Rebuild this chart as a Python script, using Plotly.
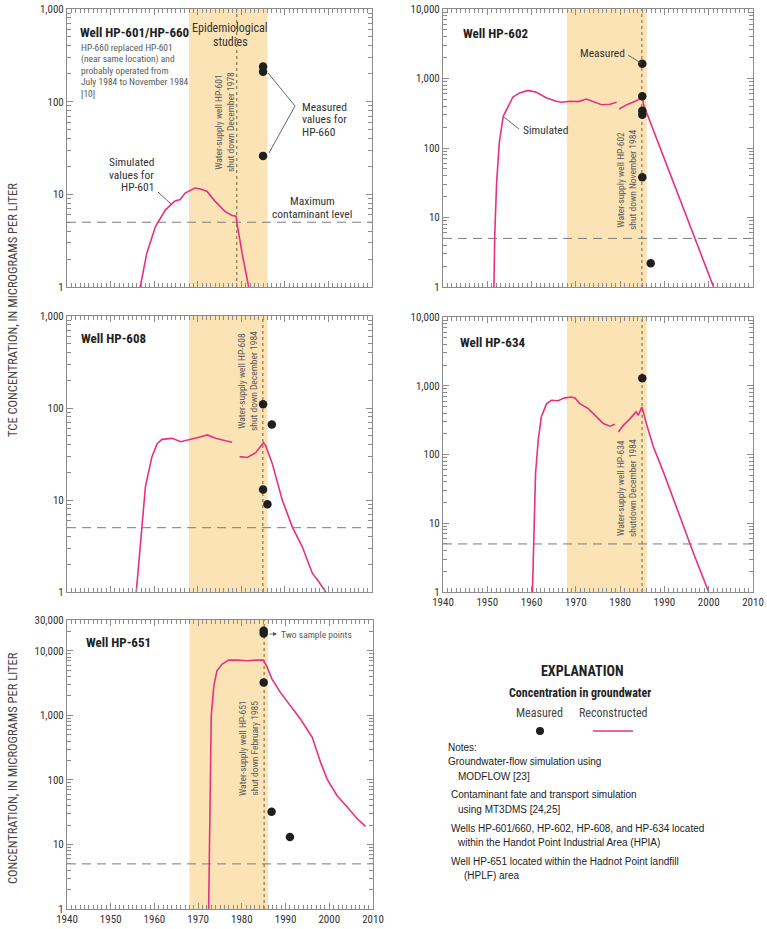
import numpy as np
import plotly.graph_objects as go

W, H = 767, 929
FONT = "Liberation Sans Narrow, Roboto Condensed, DejaVu Sans Condensed, Arial Narrow, sans-serif"
NOTE_FONT = "Liberation Sans, Arial, sans-serif"
PINK = "#E8307F"
DOT = "#1f1f1f"
SHADE = "#FCE3B6"
FRAME = "#8c8c8c"
TXT = "#333333"
GREY = "#5a5a5a"

# ---------------- data ----------------
epi_start, epi_end = 1968.0, 1986.0
mcl = 5

# HP-601 / HP-660
sim601_years = [1956.8, 1958.3, 1960.3, 1962.6, 1964.8, 1966.0, 1967.1, 1969.4, 1970.6, 1972.1,
                1974.0, 1976.3, 1977.9, 1978.8, 1979.0, 1980.2, 1981.7]
sim601_vals = [1, 2.3, 4.5, 6.8, 8.5, 8.8, 10.3, 11.7, 11.4, 10.8, 8.4, 6.5, 5.9, 5.8, 4.9, 2.3, 1]
meas660_years = [1985.0, 1985.0, 1985.0]
meas660_vals = [240, 210, 26]
shut601 = 1978.95

# HP-602
sim602a_years = [1951.5, 1951.7, 1952.1, 1952.7, 1953.6, 1954.7, 1955.8, 1957.3, 1959.2, 1961.1,
                 1963.4, 1965.6, 1966.8, 1968.7, 1970.5, 1972.4, 1973.9, 1975.8, 1977.7, 1979.2]
sim602a_vals = [1, 6, 31, 118, 286, 398, 542, 620, 675, 635, 525, 470, 455, 470, 465, 507, 470, 420, 425, 455]
sim602b_years = [1979.8, 1981.5, 1983.4, 1984.1, 1984.8, 1985.1, 1985.3, 2001.1]
sim602b_vals = [364, 420, 470, 496, 553, 496, 420, 1]
meas602_years = [1985.0, 1985.0, 1985.0, 1985.0, 1985.0, 1986.9]
meas602_vals = [1630, 554, 344, 302, 38, 2.2]
shut602 = 1984.9

# HP-608
sim608a_years = [1955.9, 1956.9, 1958.0, 1959.5, 1960.7, 1961.8, 1964.1, 1966.1, 1968.0, 1970.3,
                 1972.2, 1974.1, 1976.4, 1977.9]
sim608a_vals = [1, 3.7, 14, 29.6, 41, 45.6, 46.8, 43, 45, 48, 51, 47, 44, 42.4]
sim608b_years = [1979.6, 1981.4, 1983.3, 1984.5, 1985.1, 1985.6, 1987.1, 1989.4, 1991.7, 1994.0,
                 1996.3, 1997.5, 1999.4]
sim608b_vals = [29.6, 29, 32.7, 38, 42, 39, 25, 10, 5.1, 3.1, 1.6, 1.35, 1]
meas608_years = [1985.0, 1987.0, 1985.0, 1986.0]
meas608_vals = [110, 66, 13, 9]
shut608 = 1984.95

# HP-634
sim634a_years = [1960.2, 1960.5, 1960.9, 1961.5, 1962.2, 1963.4, 1964.5, 1966.0, 1967.5, 1969.0,
                 1969.8, 1970.9, 1972.8, 1974.7, 1976.2, 1977.7, 1978.8]
sim634a_vals = [1, 7.1, 53, 161, 352, 550, 615, 605, 666, 685, 666, 550, 465, 352, 282, 258, 275]
sim634b_years = [1979.6, 1980.7, 1982.2, 1983.6, 1984.1, 1984.9, 1985.3, 1986.0, 1987.5, 1989.8,
                 1993.5, 1996.6, 2000.0]
sim634b_vals = [213, 265, 330, 417, 373, 490, 400, 270, 130, 55, 12.5, 3.6, 1]
meas634_years = [1985.0]
meas634_vals = [1285]
shut634 = 1984.95

# HP-651
sim651_years = [1972.4, 1972.6, 1972.8, 1973.0, 1973.6, 1974.3, 1975.5, 1977.0, 1978.9, 1981.2,
                1983.5, 1984.9, 1985.8, 1986.9, 1988.8, 1991.1, 1993.4, 1996.1, 1998.0, 1999.5,
                2001.8, 2004.1, 2006.4, 2008.3]
sim651_vals = [1, 15.5, 167, 990, 2880, 4900, 6220, 7180, 7180, 7000, 7180, 7180, 5520, 3650,
               2270, 1410, 877, 457, 188, 103, 57, 38, 25, 19]
meas651_years = [1985.0, 1985.0, 1985.0, 1986.8, 1991.0]
meas651_vals = [18500, 20500, 3240, 32, 13]
shut651 = 1985.1

year_ticks = [1940, 1950, 1960, 1970, 1980, 1990, 2000, 2010]
ytick_vals = [1, 10, 100, 1000, 10000, 30000]
ytick_text = ["1", "10", "100", "1,000", "10,000", "30,000"]


def px(x, y):
    return x / W, 1 - y / H


fig = go.Figure()

# panel layout: (axis suffix, x-left, x-right, y-top, y-bottom, ymax, show x labels)
panels = [
    ("", 67, 372, 9, 287, 1000, False),
    ("2", 443, 753, 9, 287, 10000, False),
    ("3", 67, 372, 316, 592, 1000, False),
    ("4", 443, 753, 317, 592, 10000, True),
    ("5", 67, 373, 620, 909, 30000, True),
]

sims = [
    [(sim601_years, sim601_vals)],
    [(sim602a_years, sim602a_vals), (sim602b_years, sim602b_vals)],
    [(sim608a_years, sim608a_vals), (sim608b_years, sim608b_vals)],
    [(sim634a_years, sim634a_vals), (sim634b_years, sim634b_vals)],
    [(sim651_years, sim651_vals)],
]
meas = [
    (meas660_years, meas660_vals),
    (meas602_years, meas602_vals),
    (meas608_years, meas608_vals),
    (meas634_years, meas634_vals),
    (meas651_years, meas651_vals),
]
shuts = [shut601, shut602, shut608, shut634, shut651]

layout_axes = {}
shapes = []
for i, (s, xl, xr, yt, yb, ymax, showx) in enumerate(panels):
    xa = "x" + s
    ya = "y" + s
    fig.add_trace(go.Scatter(x=[1940, 2010], y=[mcl, mcl], mode="lines", xaxis=xa, yaxis=ya,
                             line=dict(color="#7a7a7a", width=1, dash="9px,6px"),
                             hoverinfo="skip", showlegend=False))
    fig.add_trace(go.Scatter(x=[shuts[i], shuts[i]], y=[1, ymax], mode="lines", xaxis=xa, yaxis=ya,
                             line=dict(color="#8a7650", width=1.2, dash="3px,3px"),
                             hoverinfo="skip", showlegend=False))
    for (yy, vv) in sims[i]:
        fig.add_trace(go.Scatter(x=yy, y=vv, mode="lines", xaxis=xa, yaxis=ya,
                                 line=dict(color=PINK, width=1.6), showlegend=False))
    fig.add_trace(go.Scatter(x=meas[i][0], y=meas[i][1], mode="markers", xaxis=xa, yaxis=ya,
                             marker=dict(color=DOT, size=8.5), showlegend=False))
    shapes.append(dict(type="rect", xref=xa, yref=ya + " domain", x0=epi_start, x1=epi_end,
                       y0=0, y1=1, fillcolor=SHADE, line=dict(width=0), layer="below"))

    x0, y0 = px(xl, yb)
    x1, y1 = px(xr, yt)
    tv = [v for v in ytick_vals if v <= ymax]
    tt = [t for v, t in zip(ytick_vals, ytick_text) if v <= ymax]
    minor_vals = [m * 10 ** d for d in range(5) for m in range(2, 10) if m * 10 ** d < ymax]
    layout_axes["xaxis" + s] = dict(
        domain=[x0, x1], range=[1940, 2010], anchor=ya, tickvals=year_ticks,
        showticklabels=showx, ticks="inside", ticklen=6, tickcolor=FRAME, automargin=False,
        minor=dict(ticks="inside", dtick=1, ticklen=4, tickcolor=FRAME, showgrid=False),
        mirror="allticks", showline=True, linecolor=FRAME, linewidth=1,
        showgrid=False, zeroline=False,
        tickfont=dict(family=FONT, size=11, color=TXT),
    )
    layout_axes["yaxis" + s] = dict(
        domain=[y0, y1], type="log", range=[0, np.log10(ymax)], anchor=xa, automargin=False,
        tickmode="array", tickvals=tv, ticktext=tt, ticks="inside", ticklen=6, tickcolor=FRAME,
        minor=dict(ticks="inside", tickmode="array", tickvals=minor_vals, ticklen=4,
                   tickcolor=FRAME, showgrid=False),
        mirror="allticks", showline=True, linecolor=FRAME, linewidth=1,
        showgrid=False, zeroline=False,
        tickfont=dict(family=FONT, size=11, color=TXT),
    )

annotations = []


def text(x, y, t, size=11, color=TXT, xanchor="left", family=FONT, angle=0, yanchor="middle"):
    ax, ay = px(x, y)
    annotations.append(dict(x=ax, y=ay, xref="paper", yref="paper", text=t, showarrow=False,
                            xanchor=xanchor, yanchor=yanchor, textangle=angle,
                            font=dict(family=family, size=size, color=color)))


def lines(x, y, step, items, **kw):
    for k, t in enumerate(items):
        text(x, y + k * step, t, **kw)


def seg(pts, color="#555555", width=0.9):
    for (xa, ya), (xb, yb) in zip(pts[:-1], pts[1:]):
        a0, b0 = px(xa, ya)
        a1, b1 = px(xb, yb)
        shapes.append(dict(type="line", xref="paper", yref="paper", x0=a0, y0=b0, x1=a1, y1=b1,
                           line=dict(color=color, width=width)))


# Panel 1
text(78, 33, "<b>Well HP-601/HP-660</b>", size=13, color="#222")
lines(79, 48, 11.3, ["HP-660 replaced HP-601", "(near same location) and", "probably operated from",
                     "July 1984 to November 1984", "[10]"], size=9.5, color=GREY)
lines(230, 28, 13.5, ["Epidemiological", "studies"], size=12, xanchor="center")
text(224, 122, "Water-supply well HP-601<br>shut down December 1978", size=9.5, color=GREY,
     xanchor="center", angle=-90)
lines(300, 107, 12.5, ["Measured", "values for", "HP-660"], size=11.5)
seg([(268, 73), (295, 106), (269, 153)])
lines(156, 162, 12.5, ["Simulated", "values for", "HP-601"], size=11.5, xanchor="right")
seg([(158, 192), (171, 204)])
lines(312, 201, 12.5, ["Maximum", "contaminant level"], size=11.5, xanchor="center")

# Panel 2
text(461, 34, "<b>Well HP-602</b>", size=13, color="#222")
text(627, 53, "Measured", size=11.5, xanchor="right")
seg([(628, 55), (641, 63)])
text(521, 130, "Simulated", size=11.5)
seg([(519, 129), (504, 117)])
text(627, 180, "Water-supply well HP-602<br>shut down November 1984", size=9.5, color=GREY,
     xanchor="center", angle=-90)

# Panel 3
text(79, 338, "<b>Well HP-608</b>", size=13, color="#222")
text(247, 381, "Water-supply well HP-608<br>shut down December 1984", size=9.5, color=GREY,
     xanchor="center", angle=-90)

# Panel 4
text(458, 342, "<b>Well HP-634</b>", size=13, color="#222")
text(626, 488, "Water-supply well HP-634<br>shutdown December 1984", size=9.5, color=GREY,
     xanchor="center", angle=-90)

# Panel 5
text(84, 642, "<b>Well HP-651</b>", size=13, color="#222")
text(248, 748, "Water-supply well HP-651<br>shut down February 1985", size=9.5, color=GREY,
     xanchor="center", angle=-90)
text(279, 634, "Two sample points", size=9.5, color=GREY)
ax0, ay0 = px(277, 634)
annotations.append(dict(x=ax0, y=ay0, xref="paper", yref="paper", ax=-9, ay=0, text="",
                        showarrow=True, arrowhead=2, arrowsize=1, arrowwidth=0.8,
                        arrowcolor="#555555"))

# Y axis titles
text(12, 310, "TCE CONCENTRATION, IN MICROGRAMS PER LITER", size=12.5, color="#444",
     xanchor="center", angle=-90)
text(12, 768, "CONCENTRATION, IN MICROGRAMS PER LITER", size=12.5, color="#444",
     xanchor="center", angle=-90)

# Explanation
text(582, 671, "<b>EXPLANATION</b>", size=14, color="#222", xanchor="center")
text(580, 693, "<b>Concentration in groundwater</b>", size=12, color="#222", xanchor="center")
text(539, 713, "Measured", size=12, color="#444", xanchor="center")
text(613, 713, "Reconstructed", size=12, color="#444", xanchor="center")
cx0, cy0 = px(536, 727)
cx1, cy1 = px(544, 735)
shapes.append(dict(type="circle", xref="paper", yref="paper", x0=cx0, y0=cy1, x1=cx1, y1=cy0,
                   fillcolor=DOT, line=dict(width=0)))
seg([(593, 731), (633, 731)], color=PINK, width=1.6)

text(446, 747, "Notes:", size=10, family=NOTE_FONT, color="#222")
text(446, 761, "Groundwater-flow simulation using", size=10, family=NOTE_FONT, color="#222")
text(456, 776, "MODFLOW [23]", size=10, family=NOTE_FONT, color="#222")
text(449, 794, "Contaminant fate and transport simulation", size=10, family=NOTE_FONT, color="#222")
text(456, 809, "using MT3DMS [24,25]", size=10, family=NOTE_FONT, color="#222")
text(449, 828, "Wells HP-601/660, HP-602, HP-608, and HP-634 located", size=10, family=NOTE_FONT,
     color="#222")
text(455, 842, "within the Handot Point Industrial Area (HPIA)", size=10, family=NOTE_FONT,
     color="#222")
text(449, 861, "Well HP-651 located within the Hadnot Point landfill", size=10, family=NOTE_FONT,
     color="#222")
text(462, 875, "(HPLF) area", size=10, family=NOTE_FONT, color="#222")

fig.update_layout(
    width=W, height=H, margin=dict(l=0, r=0, t=0, b=0),
    paper_bgcolor="white", plot_bgcolor="white",
    showlegend=False, shapes=shapes, annotations=annotations,
    font=dict(family=FONT, color=TXT),
    **layout_axes,
)

fig.write_html("out.html", config={"displayModeBar": False},
               post_script="document.body.style.margin='0px';document.body.style.overflow='hidden';")
